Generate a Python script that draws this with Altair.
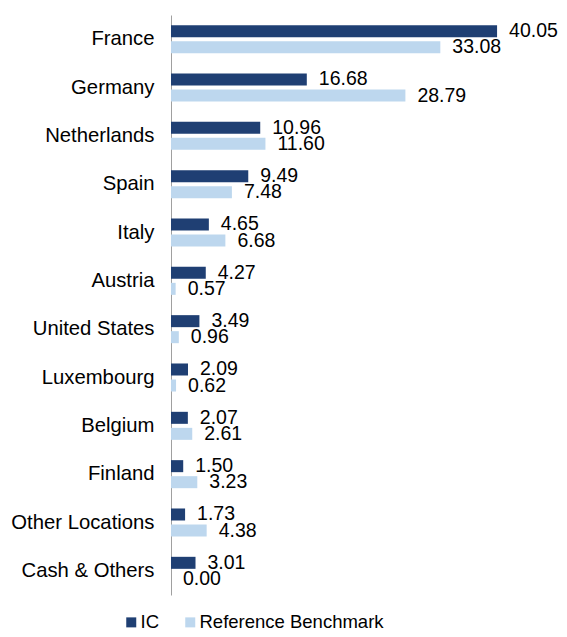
import altair as alt
import pandas as pd

categories = ["France", "Germany", "Netherlands", "Spain", "Italy", "Austria",
              "United States", "Luxembourg", "Belgium", "Finland",
              "Other Locations", "Cash & Others"]
ic_values = [40.05, 16.68, 10.96, 9.49, 4.65, 4.27, 3.49, 2.09, 2.07, 1.50, 1.73, 3.01]
bench_values = [33.08, 28.79, 11.60, 7.48, 6.68, 0.57, 0.96, 0.62, 2.61, 3.23, 4.38, 0.00]
series_names = ["IC", "Reference Benchmark"]
colors = ["#1F3F73", "#BDD7EE"]

rows = []
for c, a, b in zip(categories, ic_values, bench_values):
    rows.append({"country": c, "series": series_names[0], "value": a, "label": f"{a:.2f}"})
    rows.append({"country": c, "series": series_names[1], "value": b, "label": f"{b:.2f}"})
df = pd.DataFrame(rows)

FONT = "Liberation Sans"

y_enc = alt.Y("country:N", sort=categories, title=None,
              scale=alt.Scale(paddingInner=0.42, paddingOuter=0.21),
              axis=alt.Axis(domain=True, domainColor="#A0A0A0", domainWidth=1,
                            ticks=False, labelFontSize=20.3, labelFont=FONT,
                            labelColor="#000000", labelPadding=17, labelLimit=220))
yoff = alt.YOffset("series:N", sort=series_names,
                   scale=alt.Scale(paddingInner=0.25, paddingOuter=0))
x_enc = alt.X("value:Q", title=None, scale=alt.Scale(domain=[0, 45.2], nice=False),
              axis=None)

bars = alt.Chart(df).mark_bar().encode(
    x=x_enc,
    y=y_enc,
    yOffset=yoff,
    color=alt.Color("series:N", sort=series_names,
                    scale=alt.Scale(domain=series_names, range=colors),
                    legend=alt.Legend(title=None, orient="none", direction="horizontal",
                                      legendX=-49, legendY=598, symbolType="square",
                                      symbolSize=100, symbolStrokeWidth=0,
                                      labelFontSize=18.5, labelFont=FONT,
                                      labelColor="#000000", labelOffset=0,
                                      labelLimit=300,
                                      columnPadding=22, padding=0)),
)

labels = alt.Chart(df).mark_text(align="left", baseline="middle", dx=12,
                                 fontSize=19.5, font=FONT, color="#000000").encode(
    x=x_enc,
    y=alt.Y("country:N", sort=categories),
    yOffset=yoff,
    text="label:N",
)

chart = (bars + labels).properties(
    width=368, height=580,
    autosize=alt.AutoSizeParams(type="none"),
    padding={"left": 163, "top": 7, "right": 20, "bottom": 34},
).configure(background="white").configure_view(stroke=None)

chart.save("out.html", embed_options={"renderer": "svg", "actions": False})
